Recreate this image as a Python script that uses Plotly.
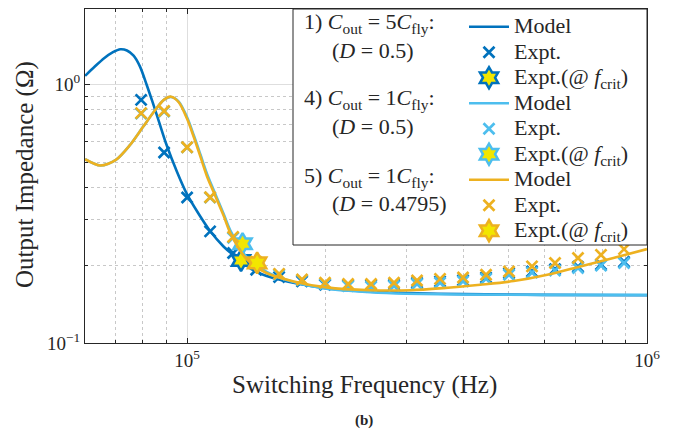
import plotly.graph_objects as go

# ---------------- data ----------------
# Model curves
f_model1 = [60000, 63000, 66000, 69000, 71600, 74000, 76500, 79000, 81600, 84000,
            87000, 90000, 95000, 100000, 106000, 112000, 120000, 126000, 140000,
            160000, 200000, 250000, 300000, 400000, 600000, 1000000]
z_model1 = [1.077, 1.17, 1.26, 1.33, 1.365, 1.35, 1.29, 1.17, 1.0, 0.86,
            0.71, 0.59, 0.46, 0.375, 0.315, 0.272, 0.236, 0.219, 0.19,
            0.175, 0.163, 0.158, 0.156, 0.1545, 0.1535, 0.153]

f_model4 = [60000, 64800, 70000, 75000, 80000, 85000, 89000, 92300, 96000, 100000,
            103400, 106900, 110500, 114200, 120100, 124200, 135000, 149200, 170500,
            201000, 250000, 300000, 400000, 600000, 1000000]
z_model4 = [0.513, 0.485, 0.51, 0.58, 0.68, 0.79, 0.87, 0.893, 0.855, 0.745,
            0.635, 0.535, 0.45, 0.39, 0.315, 0.272, 0.214, 0.188, 0.172,
            0.162, 0.157, 0.155, 0.154, 0.1535, 0.1535]

f_model5 = [60000, 64800, 70000, 75000, 80000, 85000, 89000, 92300, 96000, 100000,
            103400, 106900, 110500, 114200, 120100, 124200, 135000, 149200, 170500,
            201000, 250000, 306000, 360000, 434000, 513000, 607000, 716000, 845000, 1000000]
z_model5 = [0.513, 0.485, 0.51, 0.58, 0.68, 0.79, 0.87, 0.895, 0.85, 0.735,
            0.625, 0.525, 0.44, 0.383, 0.31, 0.266, 0.21, 0.186, 0.173,
            0.164, 0.16, 0.16, 0.163, 0.168, 0.1735, 0.1835, 0.1977, 0.213, 0.2307]

# Experimental points
f_expt = [79430, 89130, 100000, 112200, 125900, 141300, 158500, 177800, 199500,
          223900, 251200, 281800, 316200, 354800, 398100, 446700, 501200, 562300,
          631000, 707900, 794300, 891300]
z_expt1 = [0.87, 0.545, 0.365, 0.27, 0.2226, 0.192, 0.180, 0.173, 0.168,
           0.167, 0.167, 0.168, 0.171, 0.173, 0.175, 0.179, 0.186, 0.189,
           0.193, 0.197, 0.201, 0.206]
z_expt4 = [0.77, 0.785, 0.57, 0.365, 0.255, 0.205, 0.184, 0.175, 0.169,
           0.166, 0.165, 0.166, 0.169, 0.171, 0.173, 0.177, 0.1835, 0.187,
           0.1906, 0.195, 0.199, 0.2037]
z_expt5 = [0.773, 0.788, 0.571, 0.366, 0.257, 0.206, 0.185, 0.176, 0.171,
           0.169, 0.169, 0.171, 0.1745, 0.177, 0.179, 0.1835, 0.189, 0.1977,
           0.2037, 0.213, 0.219, 0.2306]

# Expt. at f_crit
f_crit = [131000, 132000, 142000]
z_crit = [0.2084, 0.242, 0.204]

# Tick labels
x_tickvals = [1e5, 1e6]
x_ticktext = ["10<sup>5</sup>", "10<sup>6</sup>"]
y_tickvals = [0.1, 1.0]
y_ticktext = ["10<sup>\u22121</sup>", "10<sup>0</sup>"]

colors = ["#0072BD", "#4DBEEE", "#EDB120"]
STAR_FILL = "#F2E600"
INK = "#262626"
FONT = "Liberation Serif"

fig = go.Figure()

cases = [
    (f_model1, z_model1, z_expt1, 0),
    (f_model4, z_model4, z_expt4, 1),
    (f_model5, z_model5, z_expt5, 2),
]

def lbl(t):
    return '<span style="font-size:22px">' + t + '</span>'

for fm, zm, ze, i in cases:
    c = colors[i]
    fig.add_trace(go.Scatter(
        x=fm, y=zm, mode="lines", line=dict(color=c, width=2.6, shape="spline", smoothing=0.8),
        name=lbl("Model")))
    fig.add_trace(go.Scatter(
        x=f_expt, y=ze, mode="markers",
        marker=dict(symbol="x-thin", size=11, line=dict(color=c, width=2.7)),
        name=lbl("Expt.")))
    fig.add_trace(go.Scatter(
        x=[f_crit[i]], y=[z_crit[i]], mode="markers",
        marker=dict(symbol="hexagram", size=16, color=STAR_FILL, line=dict(color=c, width=2.5)),
        name=lbl("Expt.(@ <i>f</i><sub>crit</sub>)")))

# page has an 8px body margin: figure is 8px smaller, coordinates below are page pixels
OFF = 8
W, H = 683 - OFF, 438 - OFF
L, R, T, B = 77, 36, 1, 95
pw, ph = W - L - R, H - T - B

def px_x(px):
    return (px - OFF - L) / pw

def px_y(py):
    return (H - B - (py - OFF)) / ph

axis_common = dict(
    type="log", showline=True, linecolor=INK, linewidth=1, mirror="allticks",
    ticks="inside", ticklen=5, tickcolor=INK, automargin=False,
    showgrid=True, gridcolor="#dedede", gridwidth=1, zeroline=False,
    tickmode="array",
    tickfont=dict(family=FONT, size=19, color=INK),
    minor=dict(dtick="D1", ticks="inside", ticklen=3, tickcolor=INK,
               showgrid=True, gridcolor="#c8c8c8", griddash="dot", gridwidth=1),
)

fig.update_xaxes(**axis_common, range=[4.778, 6.0], tickvals=x_tickvals, ticktext=x_ticktext)
fig.update_yaxes(**axis_common, range=[-1.0, 0.2907], tickvals=y_tickvals, ticktext=y_ticktext)

# legend box
fig.add_shape(type="rect", xref="paper", yref="paper",
              x0=px_x(293), x1=1.0, y0=px_y(245), y1=1.0,
              fillcolor="white", line=dict(color=INK, width=1), layer="above")

group_labels = [
    ("1) <i>C</i><sub>out</sub> = 5<i>C</i><sub>fly</sub>:", 302, 22.7),
    ("(<i>D</i> = 0.5)", 330, 50),
    ("4) <i>C</i><sub>out</sub> = 1<i>C</i><sub>fly</sub>:", 302, 99.3),
    ("(<i>D</i> = 0.5)", 330, 126),
    ("5) <i>C</i><sub>out</sub> = 1<i>C</i><sub>fly</sub>:", 302, 176.7),
    ("(<i>D</i> = 0.4795)", 330, 203.3),
]
annotations = []
for text, x, y in group_labels:
    annotations.append(dict(text=text, x=px_x(x), y=px_y(y), xref="paper", yref="paper",
                            xanchor="left", yanchor="middle", showarrow=False,
                            font=dict(family=FONT, size=22, color=INK)))
# axis titles
annotations.append(dict(text="Switching Frequency (Hz)", x=px_x(364), y=px_y(385),
                        xref="paper", yref="paper", xanchor="center", yanchor="middle",
                        showarrow=False, font=dict(family=FONT, size=25, color=INK)))
annotations.append(dict(text="Output Impedance (\u03a9)", x=px_x(25), y=px_y(175),
                        xref="paper", yref="paper", xanchor="center", yanchor="middle",
                        textangle=-90, showarrow=False, font=dict(family=FONT, size=25, color=INK)))
annotations.append(dict(text="<b>(b)</b>", x=px_x(364), y=px_y(420), xref="paper", yref="paper",
                        xanchor="center", yanchor="middle", showarrow=False,
                        font=dict(family=FONT, size=15, color=INK)))

fig.update_layout(
    width=W, height=H,
    margin=dict(l=L, r=R, t=T, b=B),
    plot_bgcolor="white", paper_bgcolor="white",
    font=dict(family=FONT, color=INK),
    annotations=annotations,
    legend=dict(x=px_x(464), y=px_y(9), xanchor="left", yanchor="top",
                bgcolor="rgba(0,0,0,0)", borderwidth=0,
                font=dict(family=FONT, size=17.3, color=INK),
                tracegroupgap=0, itemsizing="trace", itemwidth=40, maxheight=420),
)

fig.write_html("out.html")
